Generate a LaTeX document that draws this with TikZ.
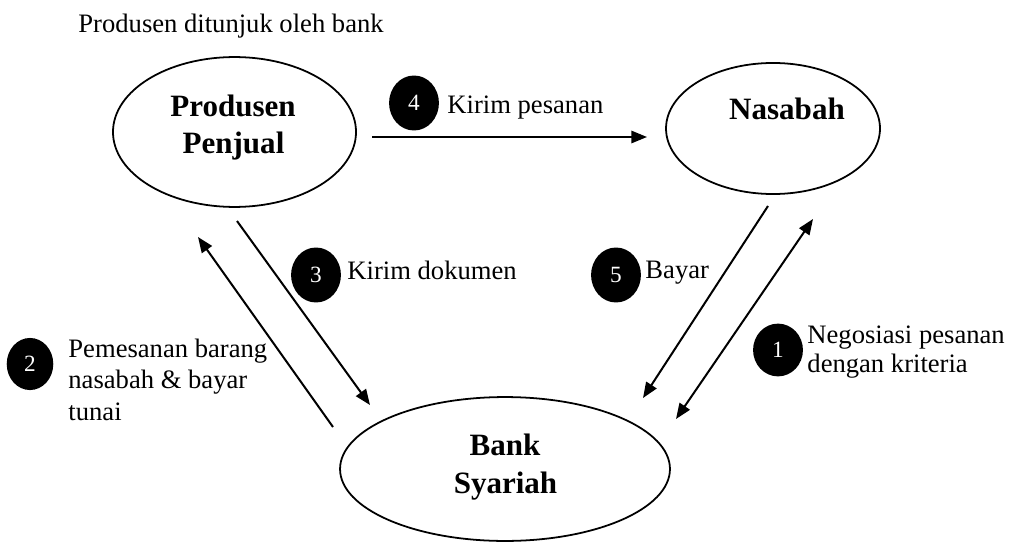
\documentclass[tikz,border=0pt]{standalone}
\usepackage{fontspec}
\setmainfont{Liberation Serif}
\usetikzlibrary{shapes.geometric,arrows.meta}
\begin{document}
\begin{tikzpicture}[x=0.451pt,y=-0.451pt,
  oval/.style={ellipse,draw,line width=0.8pt,inner sep=0pt},
  num/.style={ellipse,fill=black,text=white,inner sep=0pt,minimum width=22.5pt,minimum height=24.8pt,font=\fontsize{10.5}{12}\selectfont},
  lbl/.style={anchor=base west,inner sep=0pt,font=\fontsize{12}{14}\selectfont},
  ttl/.style={anchor=base,inner sep=0pt,font=\fontsize{14}{16}\selectfont\bfseries},
  arr/.style={line width=0.9pt,-{Triangle[length=7pt,width=5.5pt]}},
  darr/.style={line width=0.9pt,{Triangle[length=7pt,width=5.5pt]}-{Triangle[length=7pt,width=5.5pt]}},
]
\useasboundingbox (0,0) rectangle (1011,542);

% header
\node[lbl] (hdr) at (78,33) {Produsen ditunjuk oleh bank};

% main ovals
\node[oval,minimum width=109.6pt,minimum height=67.6pt] (prod) at (234.5,132) {};
\node[ttl] (prodA) at (233,116) {Produsen};
\node[ttl] (prodB) at (233.5,153) {Penjual};

\node[oval,minimum width=96.5pt,minimum height=59.1pt] (nas) at (773,128.5) {};
\node[ttl] (nasA) at (787,120) {Nasabah};

\node[oval,minimum width=148.8pt,minimum height=64.9pt] (bank) at (505,469) {};
\node[ttl] (bankA) at (505,455) {Bank};
\node[ttl] (bankB) at (505.5,493) {Syariah};

% arrow end points
\coordinate (a4s) at (372,137);
\coordinate (a4e) at (647,137);
\coordinate (a2s) at (333,427);
\coordinate (a2e) at (198,237);
\coordinate (a3s) at (237,221);
\coordinate (a3e) at (370,405);
\coordinate (a5s) at (768,206);
\coordinate (a5e) at (643,398);
\coordinate (a1s) at (676,419);
\coordinate (a1e) at (813,219);

\draw[arr] (a4s) -- (a4e);
\draw[arr] (a2s) -- (a2e);
\draw[arr] (a3s) -- (a3e);
\draw[arr] (a5s) -- (a5e);
\draw[darr] (a1s) -- (a1e);

% numbered markers
\node[num] (n4) at (414,103) {4};
\node[num] (n3) at (316,275) {3};
\node[num] (n5) at (616,275) {5};
\node[num,minimum width=21pt,minimum height=23.5pt] (n2) at (30,364) {2};
\node[num,minimum width=22.5pt,minimum height=23.8pt] (n1) at (778,350) {1};

% labels
\node[lbl] (t4) at (447,113) {Kirim pesanan};
\node[lbl] (t3) at (347,279) {Kirim dokumen};
\node[lbl] (t5) at (645,278) {Bayar};
\node[lbl] (t2a) at (68,357) {Pemesanan barang};
\node[lbl] (t2b) at (68,388) {nasabah \& bayar};
\node[lbl] (t2c) at (68,420) {tunai};
\node[lbl] (t1a) at (807,343) {Negosiasi pesanan};
\node[lbl] (t1b) at (807,372) {dengan kriteria};
\end{tikzpicture}
\end{document}
